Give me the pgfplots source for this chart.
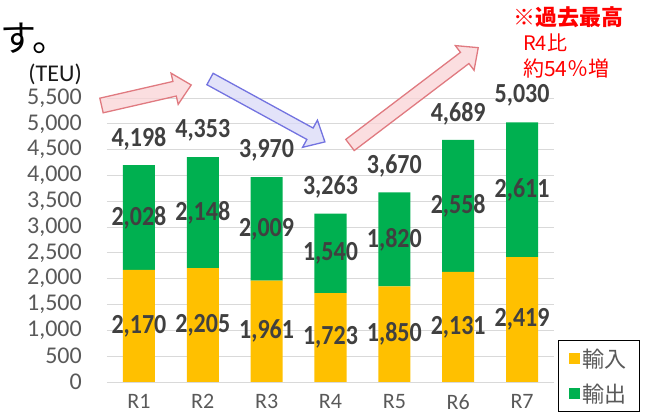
\documentclass[border=0pt]{standalone}
\usepackage{pgfplots}
\pgfplotsset{compat=1.18}
\usepackage{pgfplotstable}
\usepackage{graphicx}
\usepackage{fontspec}
\setmainfont{Carlito}
\newfontfamily\jp{Noto Sans CJK JP}
\definecolor{impc}{HTML}{FFC000}
\definecolor{expc}{HTML}{00B050}
\definecolor{lblc}{HTML}{404040}
\definecolor{tickc}{HTML}{595959}
\definecolor{gridc}{HTML}{D9D9D9}
\definecolor{pinkf}{HTML}{F9D3D6}
\definecolor{pinkd}{HTML}{E07A80}
\definecolor{bluef}{HTML}{D9D9F7}
\definecolor{blued}{HTML}{7373E0}
\pgfplotstableread{
x imp exp tot
0 2170 2028 4198
1 2205 2148 4353
2 1961 2009 3970
3 1723 1540 3263
4 1850 1820 3670
5 2131 2558 4689
6 2419 2611 5030
}\data
\pgfplotsset{base/.style={scale only axis, width=447pt, height=284pt,
  at={(107pt,33pt)}, anchor=south west, xmin=-0.5, xmax=6.5, ymin=0, ymax=5500}}
\newcommand\fatarrow[8]{% fill, draw, x, y, angle, length, shaft half, head half
  \begin{scope}[shift={(#3pt,#4pt)}, rotate=#5]
  \filldraw[fill=#1, fill opacity=0.75, draw=#2, line width=1.3pt, line join=miter]
    (0pt,-#7pt) -- ({#6pt-17pt},-#7pt) -- ({#6pt-17pt},-#8pt) -- (#6pt,0pt)
    -- ({#6pt-17pt},#8pt) -- ({#6pt-17pt},#7pt) -- (0pt,#7pt) -- cycle;
  \end{scope}}
\begin{document}
\begin{tikzpicture}
\useasboundingbox (0,0) rectangle (648pt,415pt);
\begin{axis}[base, ybar stacked, bar width=32pt,
  ytick={0,500,...,5500}, xtick={0,1,2,3,4,5,6},
  xticklabels={R1,R2,R3,R4,R5,R6,R7},
  ymajorgrids, grid style={gridc, line width=0.9pt},
  axis line style={draw=none}, tick style={draw=none},
  /pgf/number format/assume math mode=true, /pgf/number format/1000 sep={,},
  scaled y ticks=false,
  yticklabel style={anchor=east, inner sep=0pt, xshift=-25pt,
    font=\fontsize{24}{24}\selectfont, text=tickc},
  xticklabel style={anchor=north, inner sep=0pt, yshift=-12pt,
    font=\fontsize{22}{22}\selectfont, text=tickc},
  legend style={at={(1.009,-0.1056)}, anchor=south west, draw=black, line width=0.8pt,
    font=\jp\fontsize{22}{22}\selectfont, text=tickc, row sep=11pt,
    inner xsep=11pt, inner ysep=6pt},
  legend cell align=left]
\addplot[fill=impc, draw=none, legend image code/.code={\fill[impc] (0pt,-5.5pt) rectangle (11pt,5.5pt);}]
  table[x=x,y=imp]{\data};
\addlegendentry{輸入}
\addplot[fill=expc, draw=none, legend image code/.code={\fill[expc] (0pt,-5.5pt) rectangle (11pt,5.5pt);}]
  table[x=x,y=exp]{\data};
\addlegendentry{輸出}
\end{axis}
\begin{axis}[base, hide axis, clip=false,
  nodes near coords={\scalebox{1}[1.15]{\pgfmathprintnumber[assume math mode=true,1000 sep={,},fixed,precision=0]{\pgfplotspointmeta}}},
  point meta=explicit,
  every node near coord/.append style={anchor=center, inner sep=0pt,
    font=\bfseries\fontsize{24}{24}\selectfont, text=lblc}]
\addplot[draw=none, mark=none] table[x=x, y expr=\thisrow{imp}/2, meta=imp]{\data};
\addplot[draw=none, mark=none] table[x=x, y expr=\thisrow{imp}+\thisrow{exp}/2, meta=exp]{\data};
\addplot[draw=none, mark=none, every node near coord/.append style={yshift=26.5pt}] table[x=x, y=tot, meta=tot]{\data};
\end{axis}
\fatarrow{pinkf}{pinkd}{101.5}{309.5}{12.9}{92}{7.5}{16}
\fatarrow{bluef}{blued}{210}{336}{-28.7}{131}{6.5}{15.5}
\fatarrow{pinkf}{pinkd}{350}{270}{37.2}{161}{7}{15.5}
\node[anchor=west, inner sep=0pt, font=\jp\fontsize{36}{36}\selectfont] at (0pt,377pt) {す。};
\node[anchor=east, inner sep=0pt, font=\fontsize{24}{24}\selectfont, text=black!90] at (82pt,341pt) {(TEU)};
\node[anchor=west, inner sep=0pt, font=\jp\bfseries\fontsize{22}{22}\selectfont, text=red] at (513pt,397.5pt) {※過去最高};
\node[anchor=west, inner sep=0pt, font=\jp\fontsize{20}{20}\selectfont, text=red] at (523pt,372pt) {R4比};
\node[anchor=west, inner sep=0pt, font=\jp\fontsize{21}{21}\selectfont, text=red] at (523pt,346pt) {約54％増};
\end{tikzpicture}
\end{document}
